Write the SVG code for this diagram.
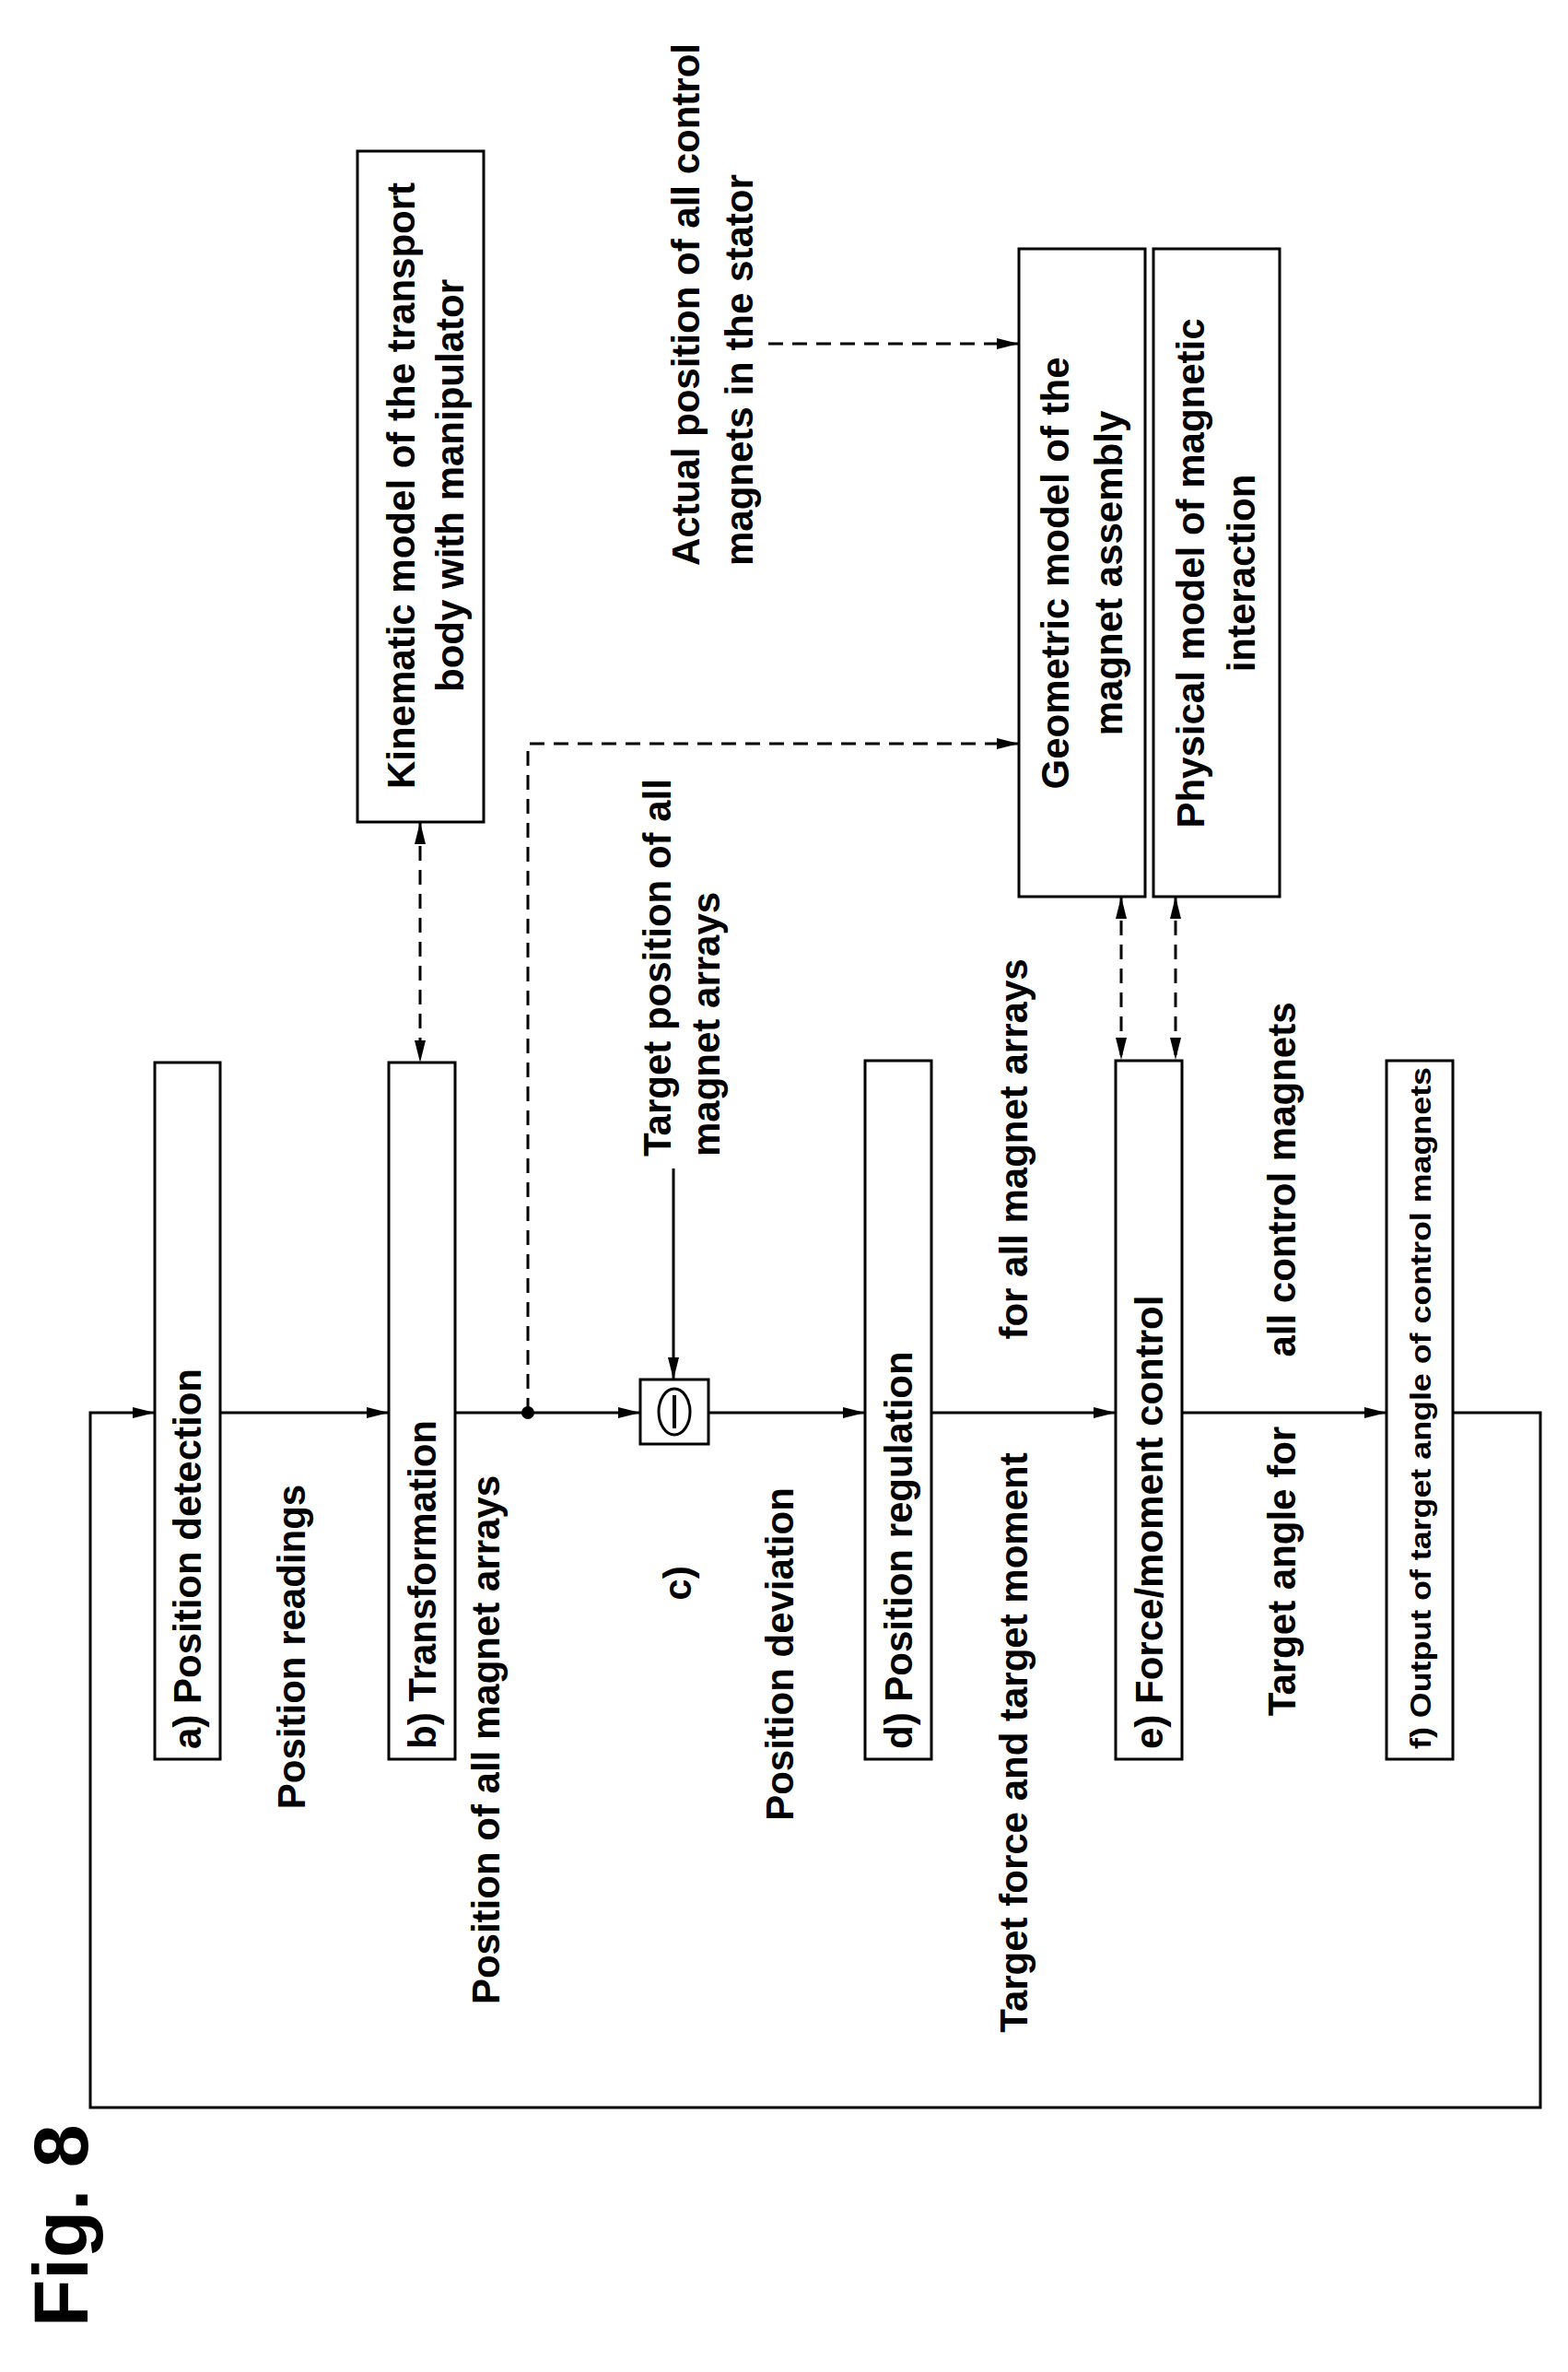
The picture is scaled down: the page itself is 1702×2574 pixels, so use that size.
<svg xmlns="http://www.w3.org/2000/svg" width="1702" height="2574" viewBox="0 0 1702 2574">
<style>
text{font-family:"Liberation Sans",Arial,sans-serif;font-weight:bold;font-size:42px;fill:#000}
text.sm{font-size:31px}
text.fig{font-size:84px}
.box{fill:#fff;stroke:#000;stroke-width:3}
.ln{fill:none;stroke:#000;stroke-width:3}
.ds{fill:none;stroke:#000;stroke-width:3;stroke-dasharray:16 10}
</style>
<defs>
<marker id="ah" viewBox="0 0 24 12" refX="24" refY="6" markerWidth="24" markerHeight="12" markerUnits="userSpaceOnUse" orient="auto-start-reverse"><path d="M0,0 L24,6 L0,12 z" fill="#000"/></marker>
</defs>
<rect width="1702" height="2574" fill="#fff"/>
<g id="connectors">
<path class="ln" d="M1577,1533 H1672 V2287 H98 V1533 H168" marker-end="url(#ah)"/>
<path class="ln" d="M239,1533 H422" marker-end="url(#ah)"/>
<path class="ln" d="M494,1533 H695" marker-end="url(#ah)"/>
<path class="ln" d="M769,1533 H939" marker-end="url(#ah)"/>
<path class="ln" d="M1011,1533 H1211" marker-end="url(#ah)"/>
<path class="ln" d="M1283,1533 H1505" marker-end="url(#ah)"/>
<path class="ln" d="M731,1268 V1497" marker-end="url(#ah)"/>
<circle cx="573" cy="1533" r="7" fill="#000"/>
<path class="ds" d="M573,1533 V807 H1106" marker-end="url(#ah)"/>
<path class="ds" d="M834,373 H1106" marker-end="url(#ah)"/>
<path class="ds" d="M456,892 V1153" marker-start="url(#ah)" marker-end="url(#ah)"/>
<path class="ds" d="M1217,973 V1150" marker-start="url(#ah)" marker-end="url(#ah)"/>
<path class="ds" d="M1276,973 V1150" marker-start="url(#ah)" marker-end="url(#ah)"/>
</g>
<g id="a"><rect class="box" x="168" y="1153" width="71" height="756"/><text transform="translate(218,1898) rotate(-90)">a) Position detection</text></g>
<g id="b"><rect class="box" x="422" y="1153" width="72" height="756"/><text transform="translate(473,1898) rotate(-90)">b) Transformation</text></g>
<g id="c"><rect class="box" x="695" y="1497" width="74" height="70"/><ellipse cx="732" cy="1532" rx="17" ry="25" fill="none" stroke="#000" stroke-width="3"/><line x1="732" y1="1514" x2="732" y2="1550" stroke="#000" stroke-width="4"/><text transform="translate(750,1718) rotate(-90)" text-anchor="middle">c)</text></g>
<g id="d"><rect class="box" x="939" y="1151" width="72" height="758"/><text transform="translate(990,1898) rotate(-90)">d) Position regulation</text></g>
<g id="e"><rect class="box" x="1211" y="1151" width="72" height="758"/><text transform="translate(1262,1898) rotate(-90)">e) Force/moment control</text></g>
<g id="f"><rect class="box" x="1505" y="1151" width="72" height="758"/><text class="sm" transform="translate(1553,1898) rotate(-90)" textLength="740" lengthAdjust="spacingAndGlyphs">f) Output of target angle of control magnets</text></g>
<g id="kinematic"><rect class="box" x="388" y="164" width="137" height="728"/><text transform="translate(450,527) rotate(-90)" text-anchor="middle">Kinematic model of the transport</text><text transform="translate(503,527) rotate(-90)" text-anchor="middle">body with manipulator</text></g>
<g id="geometric"><rect class="box" x="1106" y="270" width="137" height="703"/><text transform="translate(1160,622) rotate(-90)" text-anchor="middle">Geometric model of the</text><text transform="translate(1218,622) rotate(-90)" text-anchor="middle">magnet assembly</text></g>
<g id="physical"><rect class="box" x="1252" y="270" width="137" height="703"/><text transform="translate(1307,622) rotate(-90)" text-anchor="middle">Physical model of magnetic</text><text transform="translate(1362,622) rotate(-90)" text-anchor="middle">interaction</text></g>
<g id="labels">
<text transform="translate(331,1787) rotate(-90)" text-anchor="middle">Position readings</text>
<text transform="translate(542,1888) rotate(-90)" text-anchor="middle">Position of all magnet arrays</text>
<text transform="translate(861,1795) rotate(-90)" text-anchor="middle">Position deviation</text>
<text transform="translate(1115,1891) rotate(-90)" text-anchor="middle">Target force and target moment</text>
<text transform="translate(1115,1247) rotate(-90)" text-anchor="middle">for all magnet arrays</text>
<text transform="translate(1406,1705) rotate(-90)" text-anchor="middle">Target angle for</text>
<text transform="translate(1406,1280) rotate(-90)" text-anchor="middle">all control magnets</text>
<text transform="translate(728,1255) rotate(-90)">Target position of all</text>
<text transform="translate(781,1255) rotate(-90)">magnet arrays</text>
<text transform="translate(759,614) rotate(-90)">Actual position of all control</text>
<text transform="translate(817,614) rotate(-90)">magnets in the stator</text>
<text class="fig" transform="translate(95,2525) rotate(-90)">Fig. 8</text>
</g>
</svg>
